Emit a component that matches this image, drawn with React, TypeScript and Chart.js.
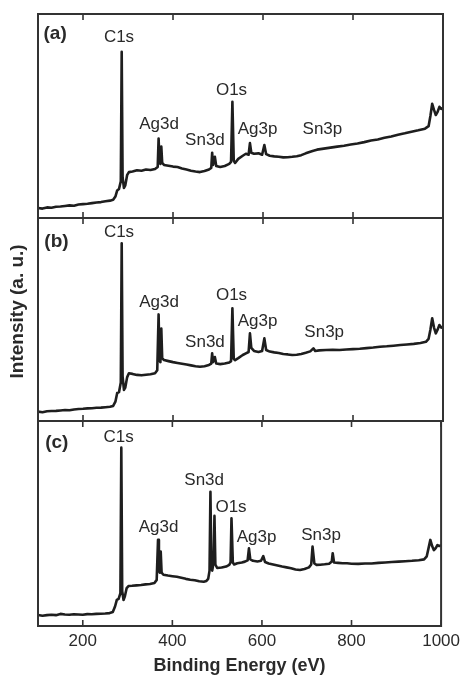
import React, { useEffect, useRef } from "react";
import { Chart, registerables } from "chart.js";

Chart.register(...registerables);

// ---------- data ----------
const xTicks = [200, 400, 600, 800, 1000];
const xTitle = "Binding Energy (eV)";
const yTitle = "Intensity (a. u.)";
const panelTags = ["(a)", "(b)", "(c)"];

// [binding energy (eV), intensity (a.u., 0-100 per panel)]
const spectrumA: [number, number][] = [
  [100, 4.9], [110, 4.6], [120, 5.2], [130, 5.0], [140, 5.5], [150, 5.6], [160, 5.9], [170, 6.2],
  [180, 6.0], [190, 6.6], [200, 6.8], [210, 7.0], [220, 7.3], [230, 7.6], [240, 7.8], [250, 8.2],
  [260, 8.5], [267, 8.9], [272, 10.5], [276, 13.5], [280, 14.2], [284, 18], [286, 81.5], [288, 20],
  [291, 14.7], [294, 16], [298, 21], [302, 22.5], [310, 22.8], [320, 23.4], [330, 23.2], [340, 23.8],
  [350, 23.5], [360, 24], [366, 25], [368, 39], [370, 28], [372, 26.5], [374, 35], [376, 27],
  [380, 26], [390, 25.6], [400, 25.2], [410, 25], [420, 24.3], [430, 23.8], [440, 23.2], [450, 22.8],
  [460, 22.5], [470, 23], [480, 23.8], [485, 24.5], [487, 32], [489, 26], [493, 30], [496, 25.5],
  [505, 25], [515, 25.5], [525, 26.5], [529, 27.5], [532, 57], [535, 28], [538, 27], [545, 29],
  [555, 30.5], [562, 31.5], [568, 31], [571, 36.7], [574, 32], [580, 31.5], [590, 31.7], [598, 31],
  [603, 35.8], [607, 31.3], [615, 30.5], [625, 30.2], [635, 30], [645, 29.7], [655, 29.8], [665, 30],
  [675, 30.3], [685, 30.8], [695, 31.7], [705, 32.5], [712, 33], [720, 33.5], [735, 34], [750, 34.5],
  [765, 35], [780, 35.4], [795, 36], [810, 36.5], [825, 37.2], [840, 38], [855, 38.5], [870, 39.3],
  [885, 40], [900, 40.8], [915, 41.5], [930, 42.3], [945, 43], [960, 43.8], [968, 45], [972, 50],
  [976, 56], [980, 53], [984, 50.5], [988, 52], [992, 54.5], [996, 53.5], [1000, 54],
];

const spectrumB: [number, number][] = [
  [100, 4.6], [110, 4.3], [120, 4.8], [130, 4.9], [140, 5.0], [150, 5.2], [160, 5.4], [170, 5.3],
  [180, 5.7], [190, 5.9], [200, 6.0], [210, 6.2], [220, 6.3], [230, 6.5], [240, 6.6], [250, 6.8],
  [260, 7.0], [267, 7.4], [272, 9.5], [276, 13.8], [280, 14.2], [284, 19], [286, 87.5], [288, 22],
  [291, 15.3], [294, 16.5], [298, 21.5], [302, 23.5], [310, 23.2], [320, 22.7], [330, 22.5], [340, 22.8],
  [350, 23.0], [360, 23.5], [365, 25], [368, 52.5], [370, 30], [372, 29], [374, 45.6], [376, 31],
  [380, 30], [390, 29.5], [400, 29], [410, 28.6], [420, 28.2], [430, 27.8], [440, 27.4], [450, 27],
  [460, 26.7], [470, 27], [480, 27.6], [485, 28.3], [487, 33.3], [489, 29], [493, 31.5], [496, 28.3],
  [505, 28], [515, 28.3], [525, 28.8], [529, 29.5], [532, 55.5], [535, 30.5], [538, 30], [545, 31],
  [555, 32.5], [562, 33.3], [568, 34], [571, 43.2], [574, 36], [580, 34.5], [590, 34], [598, 34.5],
  [603, 40.7], [607, 35], [615, 34.2], [625, 33.8], [635, 33.5], [645, 33], [655, 32.8], [665, 32.5],
  [675, 32.6], [685, 33], [695, 33.6], [705, 34.3], [712, 35.8], [716, 34.5], [725, 34.8], [740, 35],
  [755, 35.1], [770, 35], [785, 35.2], [800, 35.4], [815, 35.6], [830, 35.9], [845, 36.2], [860, 36.6],
  [875, 36.8], [890, 37.1], [905, 37.4], [920, 37.7], [935, 38], [950, 38.4], [962, 39], [968, 40.5],
  [972, 45], [976, 50.6], [980, 46], [984, 43.2], [988, 45], [992, 47.3], [996, 46], [1000, 46.5],
];

const spectrumC: [number, number][] = [
  [100, 5.4], [110, 5.0], [120, 5.3], [130, 5.5], [140, 5.3], [150, 5.9], [160, 5.6], [170, 5.5],
  [180, 5.7], [190, 5.6], [200, 5.5], [210, 5.8], [220, 5.7], [230, 5.9], [240, 6.0], [250, 6.1],
  [260, 6.3], [267, 6.8], [272, 9.5], [276, 12.7], [280, 13.2], [284, 16], [286, 87], [288, 17],
  [291, 12.7], [294, 14.5], [298, 18.5], [302, 19.5], [310, 19.6], [320, 19.8], [330, 20], [340, 20.3],
  [350, 20.5], [360, 21], [365, 22.5], [368, 42], [370, 27], [372, 26], [374, 36.3], [376, 26],
  [380, 25], [390, 24.6], [400, 24.3], [410, 24], [420, 23.5], [430, 23], [440, 22.6], [450, 22.3],
  [460, 21.8], [470, 21.6], [476, 22], [480, 23], [483, 27], [485, 65.5], [487, 30], [489, 27],
  [492, 31], [494, 53.7], [496, 30], [500, 28.3], [510, 28.5], [520, 29], [527, 29.8], [530, 31],
  [532, 52.5], [535, 31], [538, 30], [545, 30.6], [555, 31], [562, 31.4], [568, 32], [571, 37.9],
  [574, 32.5], [580, 31.8], [590, 31.5], [598, 31.8], [603, 34.1], [607, 31.2], [615, 30.5], [625, 30],
  [635, 29.5], [645, 29], [655, 28.6], [665, 28.2], [675, 27.6], [685, 27.3], [695, 27.8], [705, 28.6],
  [710, 30], [713, 38.7], [717, 30.5], [722, 29.8], [730, 29.9], [740, 30.1], [750, 30.4], [756, 31.5],
  [758, 35.5], [761, 31], [770, 30.8], [780, 30.6], [790, 30.6], [800, 30.4], [815, 30.3], [830, 30.5],
  [845, 30.5], [860, 30.8], [875, 31], [890, 31.2], [905, 31.4], [920, 31.6], [935, 31.8], [950, 32.1],
  [962, 32.5], [968, 34], [972, 38], [976, 42], [980, 39], [984, 37], [988, 38], [992, 39.5],
  [996, 39], [1000, 39.5],
];

// peak annotations: name, energy, intensity (anchor of the label)
const peakNamesA = ["C1s", "Ag3d", "Sn3d", "O1s", "Ag3p", "Sn3p"];
const peakXA = [280, 369, 471, 530, 588, 732];
const peakYA = [88.7, 46, 37.9, 62.4, 43.6, 43.5];

const peakNamesB = ["C1s", "Ag3d", "Sn3d", "O1s", "Ag3p", "Sn3p"];
const peakXB = [280, 369, 471, 530, 588, 736];
const peakYB = [93, 58.5, 38.8, 61.7, 48.9, 43.8];

const peakNamesC = ["C1s", "Ag3d", "Sn3d", "O1s", "Ag3p", "Sn3p"];
const peakXC = [280, 369, 471, 531, 588, 732];
const peakYC = [92, 48.1, 70.9, 57.9, 43.3, 44];

const tagX = [138, 141, 142];
const tagY = [90.2, 88.3, 89.4];

// ---------- drawing ----------
const FONT = '"Liberation Sans", Arial, Helvetica, sans-serif';
const INK = "#2a2a2a";

type PanelProps = {
  top: number;
  height: number;
  padTop: number;
  padBottom: number;
  spectrum: [number, number][];
  names: string[];
  px: number[];
  py: number[];
  tagIndex: number;
  showXAxis?: boolean;
  showYTitle?: boolean;
};

function Panel(p: PanelProps) {
  const ref = useRef<HTMLCanvasElement | null>(null);

  useEffect(() => {
    if (!ref.current) return;
    const frame = {
      id: "xpsFrame",
      afterDatasetsDraw(chart: any) {
        const { ctx, chartArea, scales } = chart;
        const { left, right, top, bottom } = chartArea;
        const x = scales.x;
        const y = scales.y;
        ctx.save();
        ctx.strokeStyle = "#333";
        ctx.lineWidth = 2;
        ctx.strokeRect(left, top, right - left, bottom - top);
        ctx.lineWidth = 1.6;
        for (const v of xTicks) {
          const tx = x.getPixelForValue(v);
          ctx.beginPath();
          ctx.moveTo(tx, top);
          ctx.lineTo(tx, top + 6);
          ctx.moveTo(tx, bottom);
          ctx.lineTo(tx, bottom - 6);
          ctx.stroke();
        }
        ctx.fillStyle = INK;
        ctx.textAlign = "center";
        ctx.textBaseline = "middle";
        ctx.font = `bold 19px ${FONT}`;
        ctx.fillText(
          panelTags[p.tagIndex],
          x.getPixelForValue(tagX[p.tagIndex]),
          y.getPixelForValue(tagY[p.tagIndex])
        );
        ctx.font = `17px ${FONT}`;
        p.names.forEach((n, i) => {
          ctx.fillText(n, x.getPixelForValue(p.px[i]), y.getPixelForValue(p.py[i]));
        });
        if (p.showYTitle) {
          ctx.save();
          ctx.translate(18, y.getPixelForValue(54));
          ctx.rotate(-Math.PI / 2);
          ctx.font = `bold 19px ${FONT}`;
          ctx.fillText(yTitle, 0, 0);
          ctx.restore();
        }
        ctx.restore();
      },
    };

    const chart = new Chart(ref.current, {
      type: "line",
      data: {
        datasets: [
          {
            data: p.spectrum.map(([e, v]) => ({ x: e, y: v })),
            borderColor: "#1e1e1e",
            borderWidth: 2.6,
            borderJoinStyle: "round",
            pointRadius: 0,
            tension: 0,
            fill: false,
          },
        ],
      },
      options: {
        animation: false,
        responsive: false,
        events: [],
        layout: { padding: { left: 38, right: 22, top: p.padTop, bottom: p.padBottom } },
        scales: {
          x: {
            type: "linear",
            min: 100,
            max: 1000,
            display: !!p.showXAxis,
            grid: { display: false, drawTicks: false },
            border: { display: false },
            afterBuildTicks: (scale: any) => {
              scale.ticks = xTicks.map((value) => ({ value }));
            },
            afterFit: (scale: any) => {
              if (p.showXAxis) scale.height = 51;
            },
            ticks: {
              color: INK,
              font: { family: FONT, size: 17 },
              padding: 5,
              maxRotation: 0,
              autoSkip: false,
              callback: (v: any) => String(v),
            },
            title: {
              display: !!p.showXAxis,
              text: xTitle,
              color: INK,
              font: { family: FONT, size: 18, weight: "bold" },
              padding: { top: 0, bottom: 0 },
            },
          },
          y: { type: "linear", min: 0, max: 100, display: false },
        },
        plugins: { legend: { display: false }, tooltip: { enabled: false } },
      },
      plugins: [frame],
    } as any);
    return () => chart.destroy();
  }, []);

  return (
    <canvas
      ref={ref}
      width={465}
      height={p.height}
      style={{ position: "absolute", left: 0, top: p.top, width: 465, height: p.height }}
    />
  );
}

export default function App() {
  return (
    <div
      style={{
        position: "fixed",
        left: 0,
        top: 0,
        width: 465,
        height: 677,
        background: "#fff",
        overflow: "hidden",
      }}
    >
      <Panel top={0} height={222} padTop={14} padBottom={4} spectrum={spectrumA}
        names={peakNamesA} px={peakXA} py={peakYA} tagIndex={0} />
      <Panel top={214} height={211} padTop={4} padBottom={4} spectrum={spectrumB}
        names={peakNamesB} px={peakXB} py={peakYB} tagIndex={1} showYTitle />
      <Panel top={417} height={260} padTop={4} padBottom={0} spectrum={spectrumC}
        names={peakNamesC} px={peakXC} py={peakYC} tagIndex={2} showXAxis />
    </div>
  );
}
